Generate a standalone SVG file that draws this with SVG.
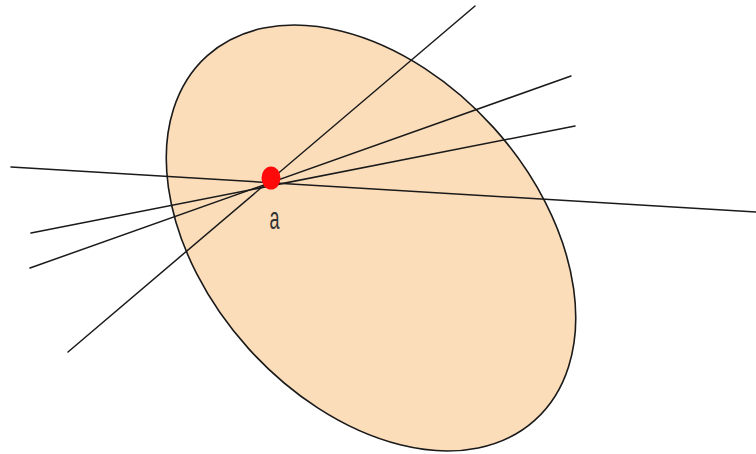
<svg xmlns="http://www.w3.org/2000/svg" width="756" height="454" viewBox="0 0 756 454">
<style>
.ln{stroke:#1a1a1a;stroke-width:1.5;fill:none;stroke-linecap:round}
.lbl{font-family:"Liberation Sans",Arial,sans-serif;font-size:18px;fill:#333}
</style>
<rect width="756" height="454" fill="#ffffff"/>
<g id="region">
<ellipse cx="371" cy="238" rx="245" ry="165" transform="rotate(48 371 238)" fill="#FCDDBA" stroke="#1a1a1a" stroke-width="1.6"/>
</g>
<g id="connectors">
<line class="ln" x1="475" y1="6" x2="68" y2="352"/>
<line class="ln" x1="571" y1="76" x2="30" y2="268"/>
<line class="ln" x1="575" y1="126" x2="31" y2="233"/>
<line class="ln" x1="11" y1="167" x2="756" y2="212"/>
</g>
<g id="point-a">
<ellipse cx="271" cy="178" rx="9.5" ry="11.5" fill="#FF0A0A"/>
<text class="lbl" text-anchor="middle" transform="translate(274.5 228.5) scale(1 1.7)">a</text>
</g>
</svg>
